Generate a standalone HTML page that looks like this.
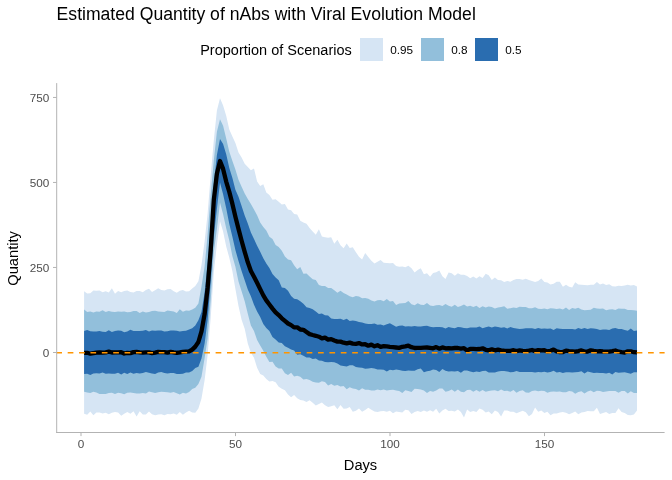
<!DOCTYPE html>
<html><head><meta charset="utf-8"><title>Estimated Quantity of nAbs</title>
<style>
html,body{margin:0;padding:0;background:#fff;}
svg{display:block;font-family:"Liberation Sans",sans-serif;}
text{filter:grayscale(1);}
</style></head><body>
<svg width="672" height="480" viewBox="0 0 672 480">
<rect width="672" height="480" fill="#ffffff"/>
<text x="56.6" y="20.1" font-size="17.6" fill="#000">Estimated Quantity of nAbs with Viral Evolution Model</text>
<text x="200.2" y="55.4" font-size="14.67" fill="#000" textLength="151.6" lengthAdjust="spacingAndGlyphs">Proportion of Scenarios</text>
<rect x="360" y="38" width="23" height="23" fill="#D6E5F4"/>
<text x="390.3" y="54.2" font-size="11.73" fill="#000">0.95</text>
<rect x="421" y="38" width="23" height="23" fill="#92BFDB"/>
<text x="451.2" y="54.2" font-size="11.73" fill="#000">0.8</text>
<rect x="475" y="38" width="23" height="23" fill="#2A6DB0"/>
<text x="505.3" y="54.2" font-size="11.73" fill="#000">0.5</text>
<polygon points="84.1,291.3 87.2,293.4 90.3,293.2 93.4,290.4 96.4,290.8 99.5,290.4 102.6,292.2 105.7,291.2 108.8,292.4 111.9,288.3 115.0,293.8 118.1,291.1 121.2,292.3 124.2,291.0 127.3,290.6 130.4,292.0 133.5,292.6 136.6,290.9 139.7,291.0 142.8,292.3 145.9,289.9 149.0,288.8 152.0,291.9 155.1,290.2 158.2,288.2 161.3,289.9 164.4,290.5 167.5,289.3 170.6,288.9 173.7,291.3 176.8,292.7 179.8,290.8 182.9,289.9 186.0,291.4 189.1,291.2 192.2,288.5 195.3,285.9 198.4,281.2 201.5,265.1 204.6,241.5 207.6,213.7 210.7,175.5 213.8,140.5 216.9,110.4 220.0,98.3 223.1,105.5 226.2,115.7 229.3,129.6 232.4,136.6 235.4,142.9 238.5,152.5 241.6,157.5 244.7,163.8 247.8,167.0 250.9,170.2 254.0,168.5 257.1,181.4 260.2,186.0 263.3,184.3 266.3,192.6 269.4,195.1 272.5,199.8 275.6,199.2 278.7,201.7 281.8,204.4 284.9,203.9 288.0,209.4 291.1,210.3 294.1,214.1 297.2,214.5 300.3,220.8 303.4,222.6 306.5,223.7 309.6,228.0 312.7,231.5 315.8,234.7 318.9,229.3 321.9,236.4 325.0,237.3 328.1,237.7 331.2,237.3 334.3,243.7 337.4,239.7 340.5,245.2 343.6,248.3 346.7,243.6 349.7,248.0 352.8,247.3 355.9,252.2 359.0,256.7 362.1,259.5 365.2,252.9 368.3,256.9 371.4,260.7 374.5,263.5 377.5,261.7 380.6,259.9 383.7,262.8 386.8,262.9 389.9,263.3 393.0,262.9 396.1,266.1 399.2,266.7 402.3,266.6 405.3,267.2 408.4,265.8 411.5,268.2 414.6,272.4 417.7,270.1 420.8,268.2 423.9,274.3 427.0,273.2 430.1,276.7 433.1,273.0 436.2,272.3 439.3,270.6 442.4,276.3 445.5,279.0 448.6,272.6 451.7,273.2 454.8,275.8 457.9,273.3 460.9,274.7 464.0,274.8 467.1,276.1 470.2,278.2 473.3,276.4 476.4,278.5 479.5,276.3 482.6,278.0 485.7,273.7 488.7,275.3 491.8,279.9 494.9,277.6 498.0,280.0 501.1,280.2 504.2,281.9 507.3,281.1 510.4,281.7 513.5,279.9 516.5,279.0 519.6,279.1 522.7,279.8 525.8,278.8 528.9,280.0 532.0,281.1 535.1,281.9 538.2,281.0 541.3,278.4 544.4,281.9 547.4,282.6 550.5,284.4 553.6,283.7 556.7,281.7 559.8,281.7 562.9,286.7 566.0,284.7 569.1,286.7 572.2,287.4 575.2,282.3 578.3,284.6 581.4,284.8 584.5,285.1 587.6,285.2 590.7,284.7 593.8,284.8 596.9,282.0 600.0,284.4 603.0,283.5 606.1,285.1 609.2,284.2 612.3,286.2 615.4,286.6 618.5,285.8 621.6,285.9 624.7,285.6 627.8,284.8 630.8,285.4 633.9,284.9 637.0,286.5 637.0,410.4 633.9,414.6 630.8,415.2 627.8,414.9 624.7,413.1 621.6,411.9 618.5,408.3 615.4,412.9 612.3,413.0 609.2,413.9 606.1,411.9 603.0,413.1 600.0,413.9 596.9,407.8 593.8,411.2 590.7,411.3 587.6,410.9 584.5,412.1 581.4,412.5 578.3,414.2 575.2,411.6 572.2,413.0 569.1,414.2 566.0,412.7 562.9,412.1 559.8,412.4 556.7,413.5 553.6,413.6 550.5,415.2 547.4,411.8 544.4,413.0 541.3,410.6 538.2,411.8 535.1,407.6 532.0,414.0 528.9,416.2 525.8,412.3 522.7,410.7 519.6,412.1 516.5,413.3 513.5,411.8 510.4,411.8 507.3,410.4 504.2,410.6 501.1,416.4 498.0,412.0 494.9,410.6 491.8,414.3 488.7,411.6 485.7,412.4 482.6,409.7 479.5,408.6 476.4,411.9 473.3,411.0 470.2,412.0 467.1,409.4 464.0,417.4 460.9,412.1 457.9,409.5 454.8,411.6 451.7,410.8 448.6,411.0 445.5,408.7 442.4,410.5 439.3,413.5 436.2,408.7 433.1,411.8 430.1,410.2 427.0,411.8 423.9,410.5 420.8,411.9 417.7,410.9 414.6,412.0 411.5,414.0 408.4,410.3 405.3,409.7 402.3,412.4 399.2,412.0 396.1,411.6 393.0,413.2 389.9,410.7 386.8,411.8 383.7,411.1 380.6,411.3 377.5,412.1 374.5,411.5 371.4,409.8 368.3,407.7 365.2,410.1 362.1,411.7 359.0,408.5 355.9,410.8 352.8,411.8 349.7,407.0 346.7,408.4 343.6,408.7 340.5,405.1 337.4,409.3 334.3,405.2 331.2,406.2 328.1,407.1 325.0,405.2 321.9,402.4 318.9,404.1 315.8,405.6 312.7,402.8 309.6,400.2 306.5,402.0 303.4,400.6 300.3,400.0 297.2,398.3 294.1,394.9 291.1,397.3 288.0,394.4 284.9,390.3 281.8,388.7 278.7,386.7 275.6,382.2 272.5,381.1 269.4,381.6 266.3,378.9 263.3,375.5 260.2,374.1 257.1,367.8 254.0,357.8 250.9,352.7 247.8,343.5 244.7,328.8 241.6,319.8 238.5,305.9 235.4,288.9 232.4,271.2 229.3,257.7 226.2,246.6 223.1,231.6 220.0,221.3 216.9,244.5 213.8,272.2 210.7,317.8 207.6,355.2 204.6,380.2 201.5,398.6 198.4,408.6 195.3,412.8 192.2,412.6 189.1,410.8 186.0,412.4 182.9,414.8 179.8,412.1 176.8,414.7 173.7,413.5 170.6,414.3 167.5,414.0 164.4,415.3 161.3,414.2 158.2,414.5 155.1,415.3 152.0,414.2 149.0,411.4 145.9,414.6 142.8,414.5 139.7,411.3 136.6,416.6 133.5,411.3 130.4,413.8 127.3,411.9 124.2,413.8 121.2,415.8 118.1,412.4 115.0,412.0 111.9,412.8 108.8,414.2 105.7,412.8 102.6,413.4 99.5,412.6 96.4,412.5 93.4,415.2 90.3,411.6 87.2,414.7 84.1,413.8" fill="#D6E5F4"/>
<polygon points="84.1,309.5 87.2,312.0 90.3,311.5 93.4,312.4 96.4,311.4 99.5,311.7 102.6,310.2 105.7,311.9 108.8,311.1 111.9,311.8 115.0,311.9 118.1,311.4 121.2,311.8 124.2,311.5 127.3,312.2 130.4,312.0 133.5,311.0 136.6,311.0 139.7,313.1 142.8,311.4 145.9,312.4 149.0,311.9 152.0,311.0 155.1,310.8 158.2,311.6 161.3,311.7 164.4,312.1 167.5,310.4 170.6,311.0 173.7,311.4 176.8,312.9 179.8,309.3 182.9,311.7 186.0,310.5 189.1,310.7 192.2,309.6 195.3,307.8 198.4,303.4 201.5,286.4 204.6,266.5 207.6,234.4 210.7,195.1 213.8,160.5 216.9,131.8 220.0,119.3 223.1,125.8 226.2,138.4 229.3,151.7 232.4,160.9 235.4,169.5 238.5,179.8 241.6,186.8 244.7,193.5 247.8,198.9 250.9,204.1 254.0,209.5 257.1,215.3 260.2,222.4 263.3,227.0 266.3,230.4 269.4,236.7 272.5,239.1 275.6,245.0 278.7,247.0 281.8,250.7 284.9,256.4 288.0,259.6 291.1,260.2 294.1,265.3 297.2,269.3 300.3,267.1 303.4,273.7 306.5,273.6 309.6,276.6 312.7,279.2 315.8,279.9 318.9,285.1 321.9,285.9 325.0,286.1 328.1,288.0 331.2,287.9 334.3,290.3 337.4,292.7 340.5,290.8 343.6,293.0 346.7,294.5 349.7,296.2 352.8,297.2 355.9,296.0 359.0,296.4 362.1,298.3 365.2,298.1 368.3,298.7 371.4,300.5 374.5,301.4 377.5,300.3 380.6,300.1 383.7,301.2 386.8,299.1 389.9,301.5 393.0,301.0 396.1,304.9 399.2,303.6 402.3,303.3 405.3,303.1 408.4,301.0 411.5,304.3 414.6,305.3 417.7,303.2 420.8,304.7 423.9,304.9 427.0,303.0 430.1,305.5 433.1,306.1 436.2,305.2 439.3,305.1 442.4,306.1 445.5,304.0 448.6,305.8 451.7,306.8 454.8,304.8 457.9,307.1 460.9,305.9 464.0,304.5 467.1,306.4 470.2,305.7 473.3,307.0 476.4,305.7 479.5,307.9 482.6,306.3 485.7,307.4 488.7,306.6 491.8,306.9 494.9,308.4 498.0,307.6 501.1,307.1 504.2,306.3 507.3,308.7 510.4,308.3 513.5,307.4 516.5,307.9 519.6,306.8 522.7,306.9 525.8,307.1 528.9,308.3 532.0,308.3 535.1,307.3 538.2,308.8 541.3,308.9 544.4,308.4 547.4,309.3 550.5,308.2 553.6,308.4 556.7,309.0 559.8,308.6 562.9,309.5 566.0,307.6 569.1,310.1 572.2,308.1 575.2,308.8 578.3,307.7 581.4,309.5 584.5,310.2 587.6,310.0 590.7,309.8 593.8,307.7 596.9,308.4 600.0,308.7 603.0,308.4 606.1,310.3 609.2,309.5 612.3,309.3 615.4,309.9 618.5,308.6 621.6,308.7 624.7,308.8 627.8,310.1 630.8,310.0 633.9,310.3 637.0,310.8 637.0,392.9 633.9,393.0 630.8,391.2 627.8,393.5 624.7,391.1 621.6,391.0 618.5,392.7 615.4,391.1 612.3,391.1 609.2,390.9 606.1,391.5 603.0,391.9 600.0,391.1 596.9,390.8 593.8,392.2 590.7,390.6 587.6,391.5 584.5,393.4 581.4,391.3 578.3,391.9 575.2,393.7 572.2,391.6 569.1,391.1 566.0,392.2 562.9,392.2 559.8,391.4 556.7,391.7 553.6,391.5 550.5,391.7 547.4,392.8 544.4,391.1 541.3,390.7 538.2,391.3 535.1,390.5 532.0,391.1 528.9,392.8 525.8,392.5 522.7,390.2 519.6,390.9 516.5,392.7 513.5,390.1 510.4,391.8 507.3,390.8 504.2,390.9 501.1,389.4 498.0,391.3 494.9,390.2 491.8,390.6 488.7,391.1 485.7,391.7 482.6,389.9 479.5,391.7 476.4,389.9 473.3,391.7 470.2,389.8 467.1,390.1 464.0,392.2 460.9,391.8 457.9,389.4 454.8,391.8 451.7,389.5 448.6,390.9 445.5,391.7 442.4,388.6 439.3,388.4 436.2,390.5 433.1,391.8 430.1,391.1 427.0,393.0 423.9,390.6 420.8,389.6 417.7,389.1 414.6,388.7 411.5,392.1 408.4,391.0 405.3,390.2 402.3,392.9 399.2,391.0 396.1,390.5 393.0,389.7 389.9,390.0 386.8,390.5 383.7,389.6 380.6,390.2 377.5,389.5 374.5,390.5 371.4,390.5 368.3,389.7 365.2,389.8 362.1,388.2 359.0,390.6 355.9,388.9 352.8,388.6 349.7,387.2 346.7,389.2 343.6,385.9 340.5,386.5 337.4,385.1 334.3,385.8 331.2,384.1 328.1,385.5 325.0,382.0 321.9,381.3 318.9,382.8 315.8,382.4 312.7,381.8 309.6,379.9 306.5,378.9 303.4,379.4 300.3,376.7 297.2,375.8 294.1,376.5 291.1,372.7 288.0,374.9 284.9,373.3 281.8,368.4 278.7,368.5 275.6,366.5 272.5,361.7 269.4,361.9 266.3,356.7 263.3,350.7 260.2,345.6 257.1,340.1 254.0,331.1 250.9,325.4 247.8,313.8 244.7,301.3 241.6,291.3 238.5,281.5 235.4,266.7 232.4,256.3 229.3,240.4 226.2,228.3 223.1,214.3 220.0,202.4 216.9,228.9 213.8,252.6 210.7,300.6 207.6,338.4 204.6,358.3 201.5,376.8 198.4,384.1 195.3,387.8 192.2,389.0 189.1,392.1 186.0,393.6 182.9,392.7 179.8,394.4 176.8,393.2 173.7,392.1 170.6,392.8 167.5,392.2 164.4,391.9 161.3,391.8 158.2,392.2 155.1,393.1 152.0,392.2 149.0,391.6 145.9,393.5 142.8,393.1 139.7,393.4 136.6,393.5 133.5,393.0 130.4,392.5 127.3,392.7 124.2,394.2 121.2,393.3 118.1,392.7 115.0,394.0 111.9,392.8 108.8,393.0 105.7,394.0 102.6,394.0 99.5,393.9 96.4,392.5 93.4,391.8 90.3,393.1 87.2,392.5 84.1,391.8" fill="#92BFDB"/>
<polygon points="84.1,330.9 87.2,330.1 90.3,331.3 93.4,331.4 96.4,331.6 99.5,331.0 102.6,331.8 105.7,331.9 108.8,330.3 111.9,331.9 115.0,331.1 118.1,330.6 121.2,330.8 124.2,332.2 127.3,331.6 130.4,329.8 133.5,331.1 136.6,330.9 139.7,330.9 142.8,330.7 145.9,330.1 149.0,331.6 152.0,330.4 155.1,330.8 158.2,330.6 161.3,330.5 164.4,331.5 167.5,331.2 170.6,330.6 173.7,330.4 176.8,330.7 179.8,331.5 182.9,330.9 186.0,330.7 189.1,329.6 192.2,328.3 195.3,325.6 198.4,320.3 201.5,312.0 204.6,292.5 207.6,263.6 210.7,224.1 213.8,184.1 216.9,155.0 220.0,139.1 223.1,144.0 226.2,154.2 229.3,168.0 232.4,178.1 235.4,189.8 238.5,196.8 241.6,206.0 244.7,215.6 247.8,223.6 250.9,232.5 254.0,238.9 257.1,245.8 260.2,251.8 263.3,258.3 266.3,263.5 269.4,267.9 272.5,274.0 275.6,277.5 278.7,280.2 281.8,287.5 284.9,287.9 288.0,290.8 291.1,296.0 294.1,298.7 297.2,299.2 300.3,301.2 303.4,303.7 306.5,307.3 309.6,308.0 312.7,309.3 315.8,311.6 318.9,314.0 321.9,313.5 325.0,315.2 328.1,315.4 331.2,318.5 334.3,318.9 337.4,318.9 340.5,318.8 343.6,320.0 346.7,318.7 349.7,321.0 352.8,320.5 355.9,321.0 359.0,321.9 362.1,322.5 365.2,323.5 368.3,323.9 371.4,323.9 374.5,323.4 377.5,324.7 380.6,324.4 383.7,325.4 386.8,324.3 389.9,323.2 393.0,324.9 396.1,326.7 399.2,325.8 402.3,325.5 405.3,326.4 408.4,326.3 411.5,326.4 414.6,325.9 417.7,326.4 420.8,326.5 423.9,326.1 427.0,325.8 430.1,326.7 433.1,327.3 436.2,327.1 439.3,327.1 442.4,327.2 445.5,328.6 448.6,327.1 451.7,327.7 454.8,328.3 457.9,327.1 460.9,327.3 464.0,327.9 467.1,328.3 470.2,327.5 473.3,327.6 476.4,327.4 479.5,326.6 482.6,328.2 485.7,327.3 488.7,326.4 491.8,327.5 494.9,326.5 498.0,327.0 501.1,327.7 504.2,327.2 507.3,328.6 510.4,326.9 513.5,328.1 516.5,328.4 519.6,329.0 522.7,328.7 525.8,328.3 528.9,328.2 532.0,328.2 535.1,329.1 538.2,327.9 541.3,328.7 544.4,328.4 547.4,328.7 550.5,328.4 553.6,330.0 556.7,328.2 559.8,328.8 562.9,328.9 566.0,329.1 569.1,329.1 572.2,329.1 575.2,329.5 578.3,327.9 581.4,328.9 584.5,328.1 587.6,329.1 590.7,328.2 593.8,328.4 596.9,329.0 600.0,330.0 603.0,329.5 606.1,329.4 609.2,330.1 612.3,328.6 615.4,327.9 618.5,329.0 621.6,329.1 624.7,330.1 627.8,330.8 630.8,328.5 633.9,331.0 637.0,330.4 637.0,372.3 633.9,372.3 630.8,373.7 627.8,372.9 624.7,372.3 621.6,372.4 618.5,372.8 615.4,372.0 612.3,374.5 609.2,372.8 606.1,373.4 603.0,373.1 600.0,372.9 596.9,372.8 593.8,372.9 590.7,372.2 587.6,371.4 584.5,373.6 581.4,371.2 578.3,372.1 575.2,372.3 572.2,372.5 569.1,372.2 566.0,372.2 562.9,372.9 559.8,372.1 556.7,372.5 553.6,370.8 550.5,372.1 547.4,372.4 544.4,371.7 541.3,372.2 538.2,372.1 535.1,372.4 532.0,371.9 528.9,371.9 525.8,372.0 522.7,371.9 519.6,372.0 516.5,370.9 513.5,372.1 510.4,372.2 507.3,371.6 504.2,371.0 501.1,370.9 498.0,371.4 494.9,372.6 491.8,372.6 488.7,372.4 485.7,370.7 482.6,371.1 479.5,372.1 476.4,371.4 473.3,372.3 470.2,371.5 467.1,370.4 464.0,370.5 460.9,372.8 457.9,371.1 454.8,371.6 451.7,371.2 448.6,371.6 445.5,370.8 442.4,369.1 439.3,371.9 436.2,370.0 433.1,369.6 430.1,370.8 427.0,371.3 423.9,372.3 420.8,368.4 417.7,369.3 414.6,370.7 411.5,370.8 408.4,370.4 405.3,370.9 402.3,370.8 399.2,370.1 396.1,369.5 393.0,370.2 389.9,369.8 386.8,371.5 383.7,369.7 380.6,369.6 377.5,369.5 374.5,368.5 371.4,368.1 368.3,368.6 365.2,368.7 362.1,367.7 359.0,367.6 355.9,367.0 352.8,365.2 349.7,365.2 346.7,366.4 343.6,365.9 340.5,365.5 337.4,363.6 334.3,362.3 331.2,361.9 328.1,362.3 325.0,362.0 321.9,360.7 318.9,360.4 315.8,358.5 312.7,359.0 309.6,357.6 306.5,357.5 303.4,355.8 300.3,354.3 297.2,354.8 294.1,350.4 291.1,349.5 288.0,347.7 284.9,346.3 281.8,342.9 278.7,342.4 275.6,339.4 272.5,337.0 269.4,330.9 266.3,328.0 263.3,323.9 260.2,316.9 257.1,311.5 254.0,304.8 250.9,296.2 247.8,289.4 244.7,280.2 241.6,271.1 238.5,261.1 235.4,249.9 232.4,236.8 229.3,224.0 226.2,208.3 223.1,194.3 220.0,182.5 216.9,209.1 213.8,236.8 210.7,281.7 207.6,320.3 204.6,343.6 201.5,358.6 198.4,366.7 195.3,368.0 192.2,370.9 189.1,372.4 186.0,372.4 182.9,373.8 179.8,374.0 176.8,374.0 173.7,373.0 170.6,373.1 167.5,373.4 164.4,372.9 161.3,372.1 158.2,372.6 155.1,373.9 152.0,373.6 149.0,372.8 145.9,372.1 142.8,373.1 139.7,373.5 136.6,373.0 133.5,373.8 130.4,372.5 127.3,374.1 124.2,372.8 121.2,374.4 118.1,372.8 115.0,373.7 111.9,373.7 108.8,373.4 105.7,373.8 102.6,372.6 99.5,373.6 96.4,373.2 93.4,373.6 90.3,375.1 87.2,373.7 84.1,374.1" fill="#2A6DB0"/>
<polyline points="84.1,352.9 87.2,352.8 90.3,353.7 93.4,353.1 96.4,352.6 99.5,352.3 102.6,352.6 105.7,352.4 108.8,351.7 111.9,352.5 115.0,352.4 118.1,352.4 121.2,352.2 124.2,353.5 127.3,352.9 130.4,353.1 133.5,352.1 136.6,351.9 139.7,352.3 142.8,352.6 145.9,352.3 149.0,352.4 152.0,353.1 155.1,352.7 158.2,351.9 161.3,352.2 164.4,352.1 167.5,352.6 170.6,351.8 173.7,352.4 176.8,352.9 179.8,352.4 182.9,351.8 186.0,351.6 189.1,351.4 192.2,349.6 195.3,346.6 198.4,342.0 201.5,331.3 204.6,314.2 207.6,288.0 210.7,250.1 213.8,200.0 216.9,173.8 220.0,161.0 223.1,168.9 226.2,181.6 229.3,191.9 232.4,203.9 235.4,216.7 238.5,228.9 241.6,240.7 244.7,251.8 247.8,262.3 250.9,270.9 254.0,276.8 257.1,282.8 260.2,289.1 263.3,295.4 266.3,300.4 269.4,304.5 272.5,308.6 275.6,312.4 278.7,315.1 281.8,318.3 284.9,320.9 288.0,323.5 291.1,325.1 294.1,327.4 297.2,327.3 300.3,329.5 303.4,329.8 306.5,332.0 309.6,334.1 312.7,335.0 315.8,335.8 318.9,336.7 321.9,338.4 325.0,337.6 328.1,339.6 331.2,339.1 334.3,340.5 337.4,341.6 340.5,341.6 343.6,342.7 346.7,343.4 349.7,342.6 352.8,343.6 355.9,343.8 359.0,343.1 362.1,344.4 365.2,344.2 368.3,345.7 371.4,344.6 374.5,346.3 377.5,345.2 380.6,346.9 383.7,346.2 386.8,346.4 389.9,346.8 393.0,347.1 396.1,347.5 399.2,347.9 402.3,346.8 405.3,346.4 408.4,345.7 411.5,347.2 414.6,348.0 417.7,347.8 420.8,347.8 423.9,347.6 427.0,347.5 430.1,347.8 433.1,348.3 436.2,347.1 439.3,348.7 442.4,347.4 445.5,348.3 448.6,348.1 451.7,348.3 454.8,348.0 457.9,348.0 460.9,348.6 464.0,348.2 467.1,350.5 470.2,348.9 473.3,348.9 476.4,349.2 479.5,349.0 482.6,348.3 485.7,349.8 488.7,350.3 491.8,349.3 494.9,350.3 498.0,349.7 501.1,350.4 504.2,350.7 507.3,350.8 510.4,350.8 513.5,350.2 516.5,351.1 519.6,350.4 522.7,350.9 525.8,351.1 528.9,350.6 532.0,350.0 535.1,351.1 538.2,350.1 541.3,350.3 544.4,350.2 547.4,351.4 550.5,350.8 553.6,349.6 556.7,351.4 559.8,352.2 562.9,352.0 566.0,350.6 569.1,351.1 572.2,351.3 575.2,351.6 578.3,351.1 581.4,350.4 584.5,351.6 587.6,351.5 590.7,350.3 593.8,350.9 596.9,351.3 600.0,351.2 603.0,351.5 606.1,351.7 609.2,351.6 612.3,351.2 615.4,350.5 618.5,351.7 621.6,352.2 624.7,352.5 627.8,351.3 630.8,351.3 633.9,352.2 637.0,352.3" fill="none" stroke="#000" stroke-width="4.3" stroke-linejoin="round" stroke-linecap="butt"/>
<line x1="56.3" y1="352.65" x2="664.6" y2="352.65" stroke="#FF9500" stroke-width="1.45" stroke-dasharray="5.69 5.69"/>
<g stroke="#b3b3b3" stroke-width="1" fill="none">
<line x1="56.7" y1="83.1" x2="56.7" y2="433"/>
<line x1="56.2" y1="432.5" x2="664.6" y2="432.5"/>
<line x1="53" y1="97.45" x2="56.7" y2="97.45"/>
<line x1="53" y1="182.45" x2="56.7" y2="182.45"/>
<line x1="53" y1="267.45" x2="56.7" y2="267.45"/>
<line x1="53" y1="352.5" x2="56.7" y2="352.5"/>
<line x1="81" y1="432.5" x2="81" y2="436.1"/>
<line x1="235.5" y1="432.5" x2="235.5" y2="436.1"/>
<line x1="390" y1="432.5" x2="390" y2="436.1"/>
<line x1="544.5" y1="432.5" x2="544.5" y2="436.1"/>
</g>
<g font-size="11.73" fill="#4d4d4d" text-anchor="end">
<text x="49.2" y="101.7">750</text>
<text x="49.2" y="186.7">500</text>
<text x="49.2" y="271.7">250</text>
<text x="49.2" y="356.7">0</text>
</g>
<g font-size="11.73" fill="#4d4d4d" text-anchor="middle">
<text x="81" y="447.8">0</text>
<text x="235.5" y="447.8">50</text>
<text x="390" y="447.8">100</text>
<text x="544.5" y="447.8">150</text>
</g>
<text x="360.5" y="469.8" font-size="14.67" fill="#000" text-anchor="middle">Days</text>
<text transform="translate(17.6,258.4) rotate(-90)" font-size="14.67" fill="#000" text-anchor="middle">Quantity</text>
</svg>
</body></html>
